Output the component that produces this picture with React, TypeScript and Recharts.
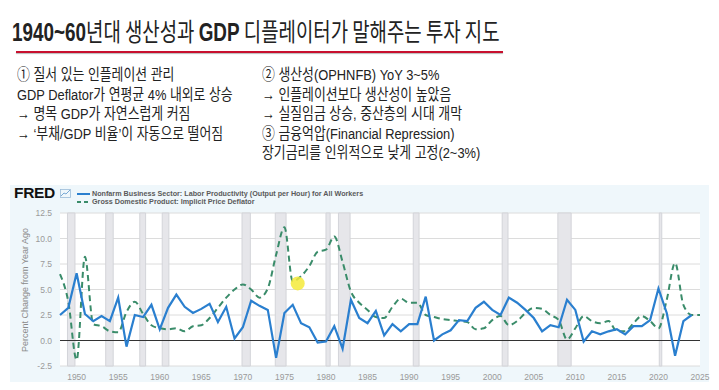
import React from "react";
import {
  LineChart, Line, XAxis, YAxis, CartesianGrid, ReferenceArea, ReferenceLine, ReferenceDot,
} from "recharts";

const YEARS = [
  1948, 1949, 1950, 1951, 1952, 1953, 1954, 1955, 1956, 1957, 1958, 1959,
  1960, 1961, 1962, 1963, 1964, 1965, 1966, 1967, 1968, 1969,
  1970, 1971, 1972, 1973, 1974, 1975, 1976, 1977, 1978, 1979,
  1980, 1981, 1982, 1983, 1984, 1985, 1986, 1987, 1988, 1989,
  1990, 1991, 1992, 1993, 1994, 1995, 1996, 1997, 1998, 1999,
  2000, 2001, 2002, 2003, 2004, 2005, 2006, 2007, 2008, 2009,
  2010, 2011, 2012, 2013, 2014, 2015, 2016, 2017, 2018, 2019,
  2020, 2021, 2022, 2023, 2024, 2025,
];

// Nonfarm business labor productivity, % change from year ago
const PRODUCTIVITY = [
  2.5, 3.2, 6.6, 2.6, 1.9, 2.4, 1.9, 4.2, -0.6, 2.5, 2.3, 3.5,
  1.1, 3.2, 4.5, 3.3, 2.7, 3.1, 3.6, 1.8, 3.3, 0.2,
  1.3, 3.9, 3.4, 3.0, -1.7, 2.7, 3.5, 1.7, 1.3, -0.2,
  -0.1, 1.4, -0.8, 4.0, 2.2, 1.7, 2.9, 0.5, 1.6, 0.9,
  1.6, 1.6, 4.3, 0.0, 0.6, 1.0, 2.0, 1.9, 3.2, 3.8,
  3.0, 2.5, 4.2, 3.7, 3.0, 2.2, 0.9, 1.5, 1.3, 4.0,
  3.0, -0.1, 0.9, 0.6, 0.9, 1.1, 0.6, 1.4, 1.4, 2.0,
  5.1, 2.7, -1.5, 1.9, 2.5, null,
];

// GDP implicit price deflator, % change from year ago
const DEFLATOR = [
  6.5, 3.8, -1.9, 8.2, 1.6, 1.4, 0.9, 0.8, 2.8, 3.8, 2.6, 1.5,
  1.2, 1.1, 1.2, 0.9, 1.4, 1.5, 2.2, 3.2, 4.2, 5.0,
  5.5, 5.0, 4.2, 5.1, 8.4, 11.1, 5.8, 6.3, 7.3, 8.7,
  8.9, 10.2, 7.7, 4.8, 3.7, 3.0, 2.3, 2.2, 3.3, 4.1,
  3.7, 3.7, 2.5, 2.3, 2.1, 2.0, 1.9, 1.8, 1.1, 1.2,
  2.0, 2.4, 1.5, 1.9, 2.7, 3.2, 3.1, 2.5, 2.0, 0.1,
  1.2, 2.4, 1.9, 1.7, 1.9, 0.9, 0.9, 1.7, 2.4, 1.9,
  1.2, 4.0, 7.6, 3.5, 2.5, 2.5,
];

const RECESSIONS: [number, number][] = [
  [1948.9, 1949.8], [1953.5, 1954.4], [1957.6, 1958.3], [1960.3, 1961.1],
  [1969.9, 1970.9], [1973.9, 1975.2], [1980.0, 1980.5], [1981.5, 1982.9],
  [1990.5, 1991.2], [2001.2, 2001.9], [2007.9, 2009.5], [2020.1, 2020.4],
];

const X_TICKS = [1950, 1955, 1960, 1965, 1970, 1975, 1980, 1985, 1990, 1995, 2000, 2005, 2010, 2015, 2020, 2025];
const Y_TICKS = [-2.5, 0, 2.5, 5, 7.5, 10, 12.5];

const LEFT_NOTES = [
  "① 질서 있는 인플레이션 관리",
  "GDP Deflator가 연평균 4% 내외로 상승",
  "→ 명목 GDP가 자연스럽게 커짐",
  "→ ‘부채/GDP 비율’이 자동으로 떨어짐",
];
const RIGHT_NOTES = [
  "② 생산성(OPHNFB) YoY 3~5%",
  "→ 인플레이션보다 생산성이 높았음",
  "→ 실질임금 상승, 중산층의 시대 개막",
  "③ 금융억압(Financial Repression)",
  "장기금리를 인위적으로 낮게 고정(2~3%)",
];

const rows = YEARS.map((y, i) => ({ year: y, prod: PRODUCTIVITY[i], defl: DEFLATOR[i] }));

const BLUE = "#2a7fcf";
const GREEN = "#3a8c6a";
const noteFont = "'Liberation Sans', 'Noto Sans CJK KR', sans-serif";
const noteStyle: React.CSSProperties = {
  position: "absolute", top: 65, fontFamily: noteFont, fontSize: 15.5, lineHeight: "19.6px",
  color: "#222", whiteSpace: "nowrap", transform: "scaleX(0.83)", transformOrigin: "left top",
};

export default function App() {
  return (
    <div style={{ position: "fixed", left: 0, top: 0, width: 719, height: 390, background: "#fff", overflow: "hidden" }}>
      <div style={{ position: "absolute", left: 12, top: 12, fontSize: 25, color: "#222", whiteSpace: "nowrap", fontFamily: "'Noto Sans CJK KR', sans-serif", transform: "scaleX(0.755)", transformOrigin: "left top" }}>
        <b style={{ fontFamily: "'Liberation Sans', sans-serif" }}>1940~60</b>년대 생산성과 <b style={{ fontFamily: "'Liberation Sans', sans-serif" }}>GDP</b> 디플레이터가 말해주는 투자 지도
      </div>
      <div style={{ position: "absolute", left: 16, top: 51, width: 487, height: 2, background: "#c8102e", boxShadow: "0 1px 1px #bbb" }} />

      <div style={{ ...noteStyle, left: 17 }}>
        {LEFT_NOTES.map((t) => <div key={t}>{t}</div>)}
      </div>
      <div style={{ ...noteStyle, left: 262 }}>
        {RIGHT_NOTES.map((t) => <div key={t}>{t}</div>)}
      </div>

      {/* FRED panel */}
      <div style={{ position: "absolute", left: 10, top: 185, width: 699, height: 197, background: "#eff7fb" }} />
      <div style={{ position: "absolute", left: 14, top: 184, fontFamily: "'Liberation Sans', sans-serif", fontWeight: 900, fontSize: 15.5, color: "#111", letterSpacing: -0.3, lineHeight: "18px" }}>
        FRED
      </div>
      <svg style={{ position: "absolute", left: 60, top: 189 }} width={11} height={9}>
        <rect x={0.5} y={0.5} width={10} height={8} fill="none" stroke="#9bbbd8" strokeWidth={0.8} />
        <polyline points="1,7 4,4 6,5 10,1" fill="none" stroke="#6a9fd0" strokeWidth={0.9} />
      </svg>
      <div style={{ position: "absolute", left: 77, top: 190, fontFamily: "'Liberation Sans', sans-serif", fontSize: 7.2, fontWeight: 700, color: "#5a5a5a", lineHeight: "8px" }}>
        <div style={{ display: "flex", alignItems: "center" }}>
          <svg width={13} height={6}><line x1={0} y1={3} x2={13} y2={3} stroke={BLUE} strokeWidth={2} /></svg>
          <span style={{ marginLeft: 2 }}>Nonfarm Business Sector: Labor Productivity (Output per Hour) for All Workers</span>
        </div>
        <div style={{ display: "flex", alignItems: "center" }}>
          <svg width={13} height={6}><line x1={0} y1={3} x2={13} y2={3} stroke={GREEN} strokeWidth={2} strokeDasharray="4 3" /></svg>
          <span style={{ marginLeft: 2 }}>Gross Domestic Product: Implicit Price Deflator</span>
        </div>
      </div>
      <div style={{ position: "absolute", left: 25, top: 290, width: 0, height: 0 }}>
        <div style={{ transform: "translate(-50%, -50%) rotate(-90deg)", whiteSpace: "nowrap", fontFamily: "'Liberation Sans', sans-serif", fontSize: 9, color: "#8a8a8a", position: "absolute", left: 0, top: 0 }}>
          Percent Change from Year Ago
        </div>
      </div>

      <div style={{ position: "absolute", left: 0, top: 180 }}>
        <LineChart width={719} height={205} data={rows} margin={{ top: 33, right: 19, bottom: 5, left: 22 }}>
          <CartesianGrid vertical={false} stroke="#dcdcdc" fill="#ffffff" />
          {RECESSIONS.map(([a, b]) => (
            <ReferenceArea key={a} x1={a} x2={b} fill="#e6e6ea" fillOpacity={1} stroke="#d3d4d9" strokeWidth={1} />
          ))}
          <XAxis
            dataKey="year" type="number" domain={[1948, 2025]} ticks={X_TICKS} height={14}
            axisLine={false} tickLine={false} tick={{ fill: "#9a9a9a", fontSize: 8.5, fontFamily: "'Liberation Sans', sans-serif" }}
            tickMargin={2} interval={0}
          />
          <YAxis
            type="number" domain={[-2.5, 12.5]} ticks={Y_TICKS} width={38}
            axisLine={false} tickLine={false} tickFormatter={(v: number) => v.toFixed(1)}
            tick={{ fill: "#9a9a9a", fontSize: 8.5, fontFamily: "'Liberation Sans', sans-serif" }}
          />
          <ReferenceLine y={0} stroke="#333" strokeWidth={1.2} />
          <Line type="monotone" dataKey="defl" stroke={GREEN} strokeWidth={2} strokeDasharray="6 4" dot={false} isAnimationActive={false} connectNulls />
          <Line type="linear" dataKey="prod" stroke={BLUE} strokeWidth={2.2} dot={false} isAnimationActive={false} />
          <ReferenceDot x={1976.6} y={5.6} r={7} fill="#f4ea3a" fillOpacity={0.85} stroke="none" />
        </LineChart>
      </div>
    </div>
  );
}
